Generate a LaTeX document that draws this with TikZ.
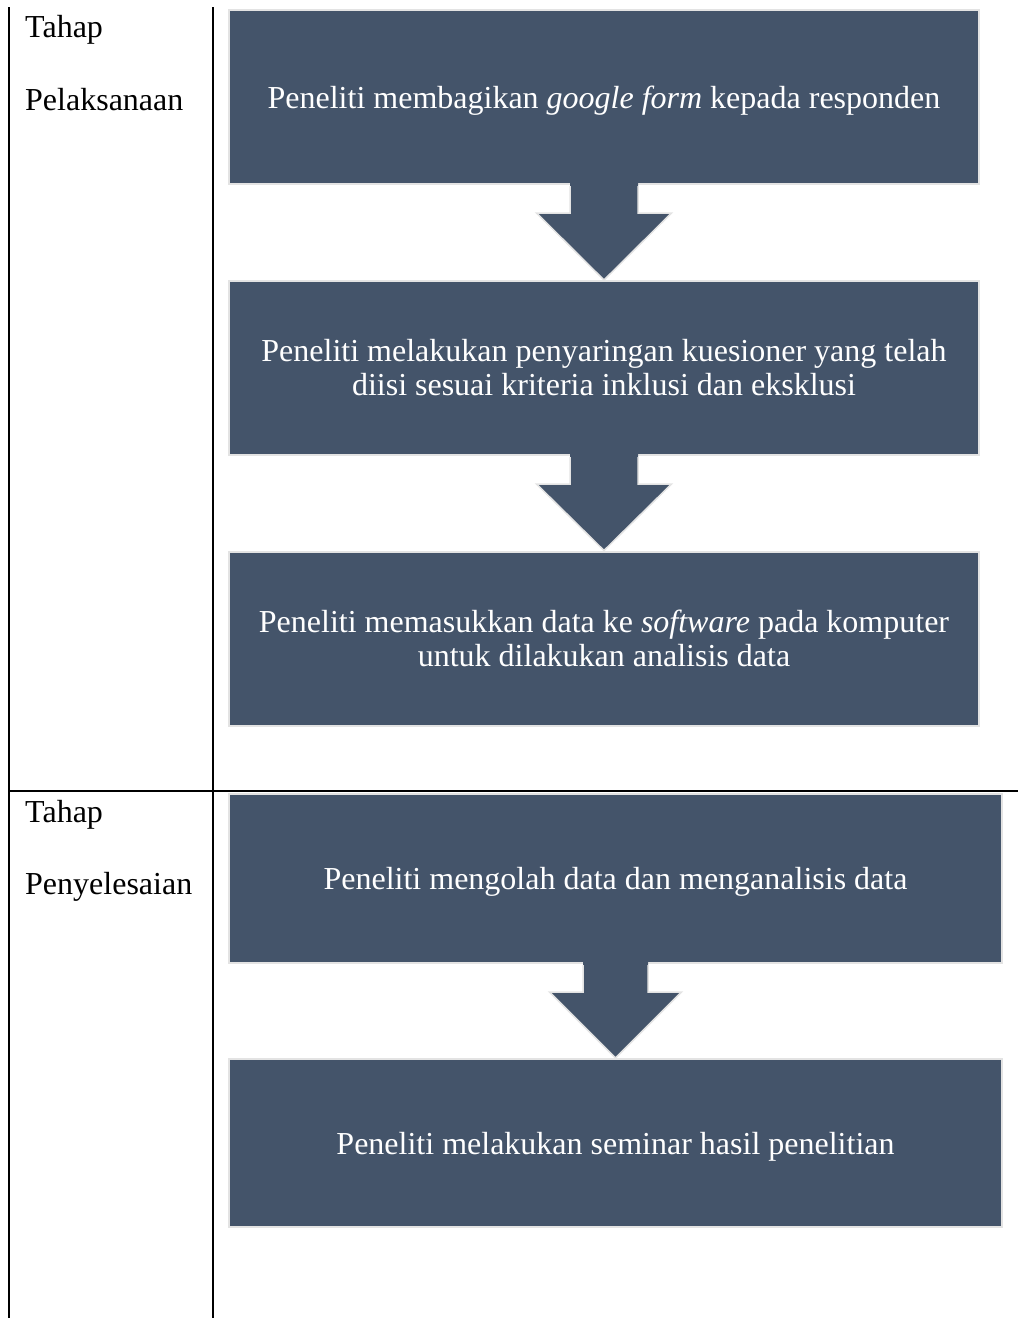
\documentclass[tikz,border=0pt]{standalone}
\usepackage{fontspec}
\setmainfont{Liberation Serif}
\usetikzlibrary{calc}
\definecolor{boxfill}{HTML}{44546A}
\definecolor{boxedge}{HTML}{E3E3E3}
\tikzset{
  flowbox/.style={rectangle, fill=boxfill, draw=boxedge, line width=2pt, text=white,
    font=\fontsize{32}{34}\selectfont, align=center, inner sep=0pt},
  oneline/.style={text depth=0pt},
  label/.style={anchor=base west, inner sep=0pt, font=\fontsize{32}{34}\selectfont, text=black},
  rule/.style={line width=2pt, black},
  arrfill/.style={fill=boxfill},
  arredge/.style={draw=boxedge, line width=1.5pt, line join=miter}
}
\begin{document}
\begin{tikzpicture}[x=1pt,y=-1pt]
\useasboundingbox (0,0) rectangle (1018,1318);
% table rules
\coordinate (lt) at (9,7);
\coordinate (lb) at (9,1318);
\coordinate (mt) at (213,7);
\coordinate (mb) at (213,1318);
\coordinate (hl) at (9,791);
\coordinate (hr) at (1018,791);
\draw[rule] (lt) -- (lb);
\draw[rule] (mt) -- (mb);
\draw[rule] (hl) -- (hr);
% labels
\node[label] (t1) at (25,37) {Tahap};
\node[label] (p1) at (25,110) {Pelaksanaan};
\node[label] (t2) at (25,822) {Tahap};
\node[label] (p2) at (25,894) {Penyelesaian};
% boxes
\node[flowbox, oneline, minimum width=750, minimum height=174] (b1) at (604,97)
  {Peneliti membagikan \textit{google form} kepada responden};
\node[flowbox, minimum width=750, minimum height=174] (b2) at (604,368)
  {Peneliti melakukan penyaringan kuesioner yang telah\\diisi sesuai kriteria inklusi dan eksklusi};
\node[flowbox, minimum width=750, minimum height=174] (b3) at (604,638.5)
  {Peneliti memasukkan data ke \textit{software} pada komputer\\untuk dilakukan analisis data};
\node[flowbox, oneline, minimum width=773, minimum height=169] (b4) at (615.5,878.5)
  {Peneliti mengolah data dan menganalisis data};
\node[flowbox, oneline, minimum width=773, minimum height=168] (b5) at (615.5,1143)
  {Peneliti melakukan seminar hasil penelitian};
% block arrows
\foreach \a/\b/\s/\h in {b1/b2/34/67.5, b2/b3/34/67.5, b4/b5/32.5/66}{
  \fill[arrfill] ($(\a.south)+(-\s,-3)$) -- ($(\a.south)+(-\s,28)$) -- ($(\a.south)+(-\h,28)$)
    -- (\b.north) -- ($(\a.south)+(\h,28)$) -- ($(\a.south)+(\s,28)$) -- ($(\a.south)+(\s,-3)$) -- cycle;
  \draw[arredge] ($(\a.south)+(-\s,1)$) -- ($(\a.south)+(-\s,28)$) -- ($(\a.south)+(-\h,28)$)
    -- (\b.north) -- ($(\a.south)+(\h,28)$) -- ($(\a.south)+(\s,28)$) -- ($(\a.south)+(\s,1)$);
}
\end{tikzpicture}
\end{document}
